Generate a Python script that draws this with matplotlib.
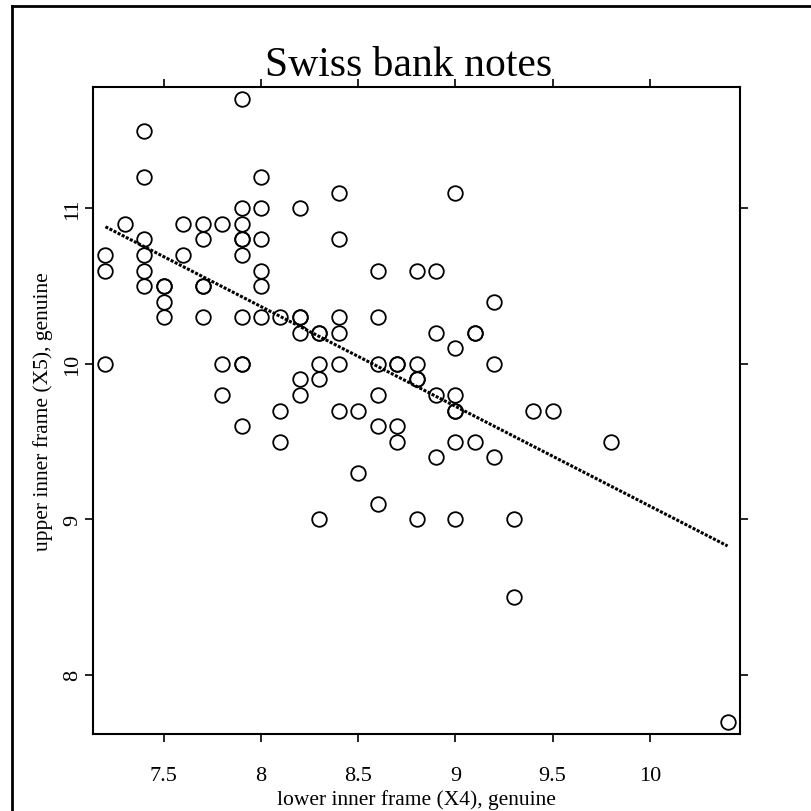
import numpy as np
import matplotlib.pyplot as plt
from matplotlib.lines import Line2D

plt.rcParams['font.family'] = ['Liberation Serif', 'DejaVu Serif']

# lower inner frame (X4) and upper inner frame (X5), genuine notes
x4 = [7.2, 7.2, 7.2,
      7.3,
      7.4, 7.4, 7.4, 7.4, 7.4, 7.4,
      7.5, 7.5, 7.5, 7.5,
      7.6, 7.6,
      7.7, 7.7, 7.7, 7.7, 7.7,
      7.8, 7.8, 7.8,
      7.9, 7.9, 7.9, 7.9, 7.9, 7.9, 7.9, 7.9, 7.9, 7.9,
      8.0, 8.0, 8.0, 8.0, 8.0, 8.0,
      8.1, 8.1, 8.1,
      8.2, 8.2, 8.2, 8.2, 8.2, 8.2,
      8.3, 8.3, 8.3, 8.3, 8.3,
      8.4, 8.4, 8.4, 8.4, 8.4, 8.4,
      8.5, 8.5,
      8.6, 8.6, 8.6, 8.6, 8.6, 8.6,
      8.7, 8.7, 8.7, 8.7,
      8.8, 8.8, 8.8, 8.8, 8.8,
      8.9, 8.9, 8.9, 8.9,
      9.0, 9.0, 9.0, 9.0, 9.0, 9.0, 9.0,
      9.1, 9.1, 9.1,
      9.2, 9.2, 9.2,
      9.3, 9.3,
      9.4, 9.5, 9.8, 10.4]
x5 = [10.7, 10.6, 10.0,
      10.9,
      11.5, 11.2, 10.8, 10.7, 10.6, 10.5,
      10.5, 10.5, 10.4, 10.3,
      10.9, 10.7,
      10.9, 10.8, 10.5, 10.5, 10.3,
      10.9, 10.0, 9.8,
      11.7, 11.0, 10.9, 10.8, 10.8, 10.7, 10.3, 10.0, 10.0, 9.6,
      11.2, 11.0, 10.8, 10.6, 10.5, 10.3,
      10.3, 9.7, 9.5,
      11.0, 10.3, 10.3, 10.2, 9.9, 9.8,
      10.2, 10.2, 10.0, 9.9, 9.0,
      11.1, 10.8, 10.3, 10.2, 10.0, 9.7,
      9.7, 9.3,
      10.6, 10.3, 10.0, 9.8, 9.6, 9.1,
      10.0, 10.0, 9.6, 9.5,
      10.6, 10.0, 9.9, 9.9, 9.0,
      10.6, 10.2, 9.8, 9.4,
      11.1, 10.1, 9.8, 9.7, 9.7, 9.5, 9.0,
      10.2, 10.2, 9.5,
      10.4, 10.0, 9.4,
      9.0, 8.5,
      9.7, 9.7, 9.5, 7.7]
x = np.array(x4)
y = np.array(x5)

xticks = [7.5, 8, 8.5, 9, 9.5, 10]
xlabels = ['7.5', '8', '8.5', '9', '9.5', '10']
yticks = [8, 9, 10, 11]
ylabels = ['8', '9', '10', '11']

fig = plt.figure(figsize=(8.11, 8.12), dpi=100)
ax = fig.add_axes([93/811, 1-735/812, 647/811, 647/812])

b = np.polyfit(x, y, 1)
xl = np.array([x.min(), x.max()])
ax.plot(xl, b[0]*xl + b[1], color='black', lw=2.2, ls=(0, (1, 0.5)))
ax.plot(x, y, 'o', mfc='none', mec='black', ms=10.5, mew=1.3)

xr = x.max() - x.min()
yr = y.max() - y.min()
ax.set_xlim(x.min() - 0.02*xr, x.max() + 0.02*xr)
ax.set_ylim(y.min() - 0.02*yr, y.max() + 0.02*yr)

ax.set_xticks(xticks)
ax.set_xticklabels(xlabels)
ax.set_yticks(yticks)
ax.set_yticklabels(ylabels, rotation=90, va='center')
ax.tick_params(direction='out', length=6, width=1.2, labelsize=16, pad=17,
               top=True, right=True)
ax.tick_params(axis='y', pad=2)
for s in ax.spines.values():
    s.set_linewidth(1.5)

ax.set_xlabel('lower inner frame (X4), genuine', fontsize=15.5, labelpad=3)
ax.set_ylabel('upper inner frame (X5), genuine', fontsize=15.5, labelpad=7)
ax.set_title('Swiss bank notes', fontsize=30, pad=9, x=0.488)

# outer frame lines (left and top)
fig.add_artist(Line2D([12/811, 12/811], [0, 1-7/812], transform=fig.transFigure, color='black', lw=2))
fig.add_artist(Line2D([12/811, 1], [1-7/812, 1-7/812], transform=fig.transFigure, color='black', lw=2))

fig.savefig('out.png', dpi=100)
